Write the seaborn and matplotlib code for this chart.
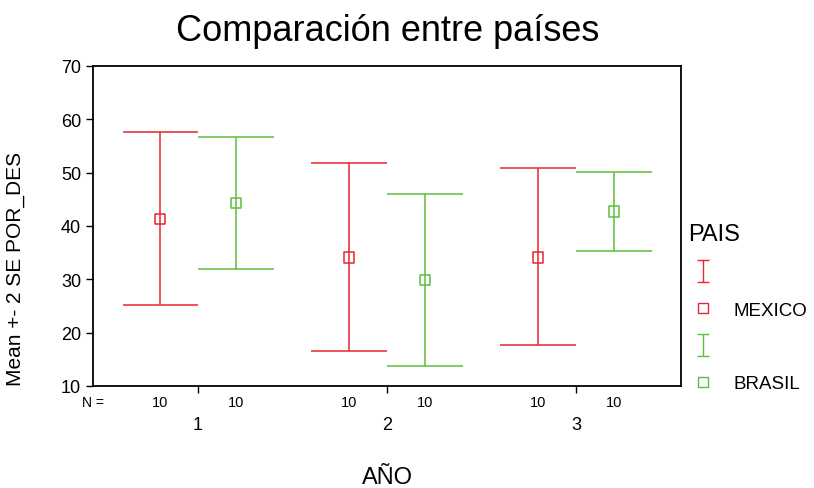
import numpy as np
import pandas as pd
import seaborn as sns
import matplotlib.pyplot as plt
from matplotlib.lines import Line2D
from matplotlib.path import Path

# values (mean +- 2 SE)
years = [1, 2, 3]
paises = ["MEXICO", "BRASIL"]
mex_mean = [41.3, 34.1, 34.1]
mex_lo = [25.1, 16.5, 17.6]
mex_hi = [57.6, 51.9, 50.8]
bra_mean = [44.3, 29.9, 42.7]
bra_lo = [31.9, 13.7, 35.4]
bra_hi = [56.6, 46.0, 50.2]
n_obs = [10, 10, 10]

colors = {"MEXICO": "#e8262e", "BRASIL": "#5ebf3c"}
offset = {"MEXICO": -0.2, "BRASIL": 0.2}

df = pd.concat([
    pd.DataFrame({"AÑO": years, "PAIS": "MEXICO", "mean": mex_mean, "lo": mex_lo, "hi": mex_hi, "n": n_obs}),
    pd.DataFrame({"AÑO": years, "PAIS": "BRASIL", "mean": bra_mean, "lo": bra_lo, "hi": bra_hi, "n": n_obs}),
], ignore_index=True)
df["x"] = df["AÑO"] + df["PAIS"].map(offset)

sns.set_theme(style="white")
plt.rcParams["font.family"] = ["Liberation Sans", "DejaVu Sans"]
plt.rcParams["text.color"] = "black"
plt.rcParams["axes.labelcolor"] = "black"

fig = plt.figure(figsize=(8.14, 4.89), dpi=100)
ax = fig.add_axes([0.1143, 0.2086, 0.7223, 0.6544])

cap = 0.2
for p in paises:
    d = df[df["PAIS"] == p]
    c = colors[p]
    ax.vlines(d["x"], d["lo"], d["hi"], color=c, lw=1.1)
    ax.hlines(d["lo"], d["x"] - cap, d["x"] + cap, color=c, lw=1.1)
    ax.hlines(d["hi"], d["x"] - cap, d["x"] + cap, color=c, lw=1.1)

sns.scatterplot(data=df, x="x", y="mean", hue="PAIS", palette=colors, marker="s",
                s=55, linewidth=1.1, legend=False, ax=ax, zorder=3)
# hollow squares: seaborn fills them, so redo edge colours
pts = ax.collections[-1]
pts.set_edgecolors([colors[p] for p in df["PAIS"]])
pts.set_facecolors("none")

ax.set_xlim(0.444, 3.556)
ax.set_ylim(10, 70)
ax.set_yticks(range(10, 71, 10))
ax.set_xticks(years)
ax.set_xticklabels([])
ax.set_xlabel("")
ax.set_ylabel("Mean +- 2 SE POR_DES", fontsize=15)
ax.yaxis.set_label_coords(-0.116, 0.37)
ax.tick_params(axis="y", direction="out", length=5, width=1, labelsize=13, left=True, colors="black")
ax.tick_params(axis="x", direction="out", length=5, width=1, bottom=True, colors="black")
for s in ax.spines.values():
    s.set_color("black")
    s.set_linewidth(1.3)

# N row and group labels under the axis
tr = ax.get_xaxis_transform()
ax.text(0.444, -0.05, "N =", transform=tr, ha="center", va="center", fontsize=10)
for _, r in df.iterrows():
    ax.text(r["x"], -0.05, str(r["n"]), transform=tr, ha="center", va="center", fontsize=10.5)
for y in years:
    ax.text(y, -0.12, str(y), transform=tr, ha="center", va="center", fontsize=13)
ax.text(2, -0.285, "AÑO", transform=tr, ha="center", va="center", fontsize=17)

fig.text(0.476, 0.935, "Comparación entre países", ha="center", va="center", fontsize=26)

# legend: error bar glyph + hollow square per country
ibeam = Path([(-0.5, -1), (0.5, -1), (0, -1), (0, 1), (-0.5, 1), (0.5, 1)],
             [Path.MOVETO, Path.LINETO, Path.MOVETO, Path.LINETO, Path.MOVETO, Path.LINETO])
handles, labels = [], []
for p in paises:
    handles.append(Line2D([], [], ls="none", marker=ibeam, markersize=16, markeredgewidth=1.0,
                          color=colors[p], markerfacecolor="none"))
    labels.append(" ")
    handles.append(Line2D([], [], ls="none", marker="s", markersize=7, markerfacecolor="none",
                          markeredgecolor=colors[p], markeredgewidth=1.0))
    labels.append(p)
leg = ax.legend(handles, labels, title="PAIS", loc="upper left", bbox_to_anchor=(0.99, 0.55),
                frameon=False, fontsize=13.5, title_fontsize=17, labelspacing=1.05,
                handlelength=1.6, handletextpad=0.8, alignment="left", borderaxespad=0.3)

fig.savefig("out.png", dpi=100)
